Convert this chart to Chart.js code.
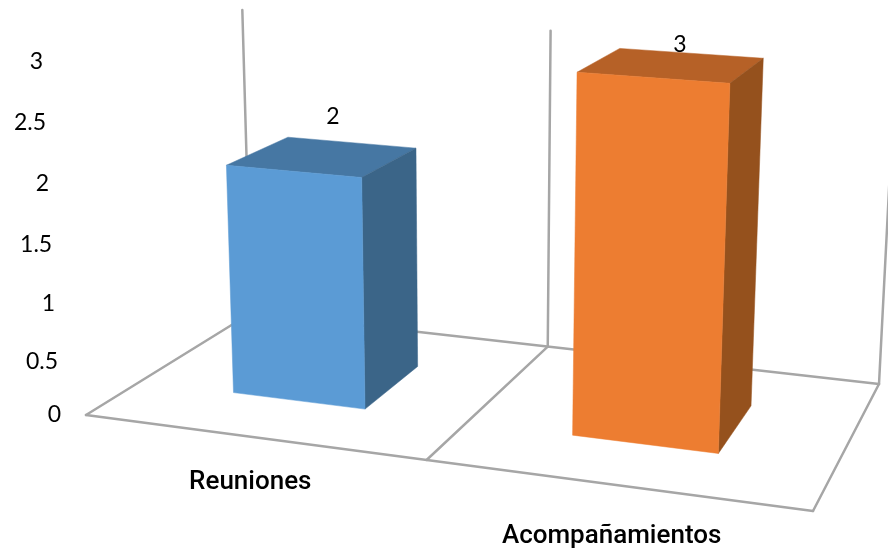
<!DOCTYPE html>
<html>
<head>
<meta charset="utf-8">
<title>Reuniones y acompañamientos</title>
<script src="https://cdn.jsdelivr.net/npm/chart.js@4"></script>
<style>
    html, body { margin: 0; padding: 0; background: #ffffff; }
    #chartBox { position: relative; width: 888px; height: 550px; }
</style>
</head>
<body>
<div id="chartBox"><canvas id="barChart"></canvas></div>
<script>
// chart data
const categories = ['Reuniones', 'Acompañamientos'];
const seriesValues = [2, 3];
const tickValues = [0, 0.5, 1, 1.5, 2, 2.5, 3];

// face colours per bar
const frontColors = ['#5b9bd5', '#ed7d31'];
const topColors = ['#4677a3', '#b66127'];
const sideColors = ['#3b6588', '#95511d'];

// perspective of the 3d box: floor corners on screen, see makeFloor()
const floorCorners = { frontLeft: [86, 415], frontRight: [813, 511], backRight: [879, 384], backLeft: [251, 313] };
const verticalVanish = [477, 8200];
const heightFactor = -0.01465;
const wallTop = 2.95;
const barDepth = [0.3, 0.69];
const categoryShift = -0.0045;

const lineColor = '#a6a6a6';
const tickFont = '23px Lato';
const categoryFont = '500 26px Roboto';

// small screen nudges for the text
const categoryNudge = [[0, 46], [-1, 52]];
const valueNudge = [[9, -40], [7, -20]];

// square to quad mapping for the floor
function makeFloor(c) {
    const [x0, y0] = c.frontLeft, [x1, y1] = c.frontRight, [x2, y2] = c.backRight, [x3, y3] = c.backLeft;
    const dx1 = x1 - x2, dx2 = x3 - x2, sx = x0 - x1 + x2 - x3;
    const dy1 = y1 - y2, dy2 = y3 - y2, sy = y0 - y1 + y2 - y3;
    const den = dx1 * dy2 - dx2 * dy1;
    const g = (sx * dy2 - dx2 * sy) / den;
    const h = (dx1 * sy - sx * dy1) / den;
    return {
        a: x1 - x0 + g * x1, b: x3 - x0 + h * x3, c: x0,
        d: y1 - y0 + g * y1, e: y3 - y0 + h * y3, f: y0,
        g: g, h: h
    };
}
const floor = makeFloor(floorCorners);

// u = along the categories, w = depth, value = height on the value axis
function project(u, w, value) {
    const X = floor.a * u + floor.b * w + floor.c;
    const Y = floor.d * u + floor.e * w + floor.f;
    const W = floor.g * u + floor.h * w + 1;
    const t = heightFactor * value;
    return [(X + verticalVanish[0] * t) / (W + t), (Y + verticalVanish[1] * t) / (W + t)];
}

function fillFace(ctx, points, color) {
    ctx.beginPath();
    points.forEach((p, i) => i === 0 ? ctx.moveTo(p[0], p[1]) : ctx.lineTo(p[0], p[1]));
    ctx.closePath();
    ctx.fillStyle = color;
    ctx.strokeStyle = color;
    ctx.lineWidth = 0.5;
    ctx.fill();
    ctx.stroke();
}

function strokeLine(ctx, from, to) {
    ctx.beginPath();
    ctx.moveTo(from[0], from[1]);
    ctx.lineTo(to[0], to[1]);
    ctx.stroke();
}

const box3d = {
    id: 'box3d',
    // floor and back walls
    beforeDatasetsDraw(chart) {
        const ctx = chart.ctx;
        const mid = 0.5 + categoryShift;
        ctx.save();
        ctx.strokeStyle = lineColor;
        ctx.lineWidth = 2.5;
        ctx.lineCap = 'round';
        strokeLine(ctx, project(0, 0, 0), project(1, 0, 0));
        strokeLine(ctx, project(1, 0, 0), project(1, 1, 0));
        strokeLine(ctx, project(1, 1, 0), project(0, 1, 0));
        strokeLine(ctx, project(0, 1, 0), project(0, 0, 0));
        strokeLine(ctx, project(mid, 0, 0), project(mid, 1, 0));
        [0, mid, 1].forEach(u => strokeLine(ctx, project(u, 1, 0), project(u, 1, wallTop)));
        ctx.restore();
    },
    // bars are drawn here as three faces instead of the flat rectangle
    beforeDatasetDraw(chart, args) {
        const ctx = chart.ctx;
        const area = chart.chartArea;
        const yScale = chart.scales.y;
        ctx.save();
        args.meta.data.forEach((bar, i) => {
            const left = (bar.x - bar.width / 2 - area.left) / (area.right - area.left) + categoryShift;
            const right = (bar.x + bar.width / 2 - area.left) / (area.right - area.left) + categoryShift;
            const value = yScale.getValueForPixel(bar.y);
            const near = barDepth[0], far = barDepth[1];
            fillFace(ctx, [project(left, near, value), project(right, near, value), project(right, far, value), project(left, far, value)], topColors[i]);
            fillFace(ctx, [project(right, near, 0), project(right, far, 0), project(right, far, value), project(right, near, value)], sideColors[i]);
            fillFace(ctx, [project(left, near, 0), project(right, near, 0), project(right, near, value), project(left, near, value)], frontColors[i]);
        });
        ctx.restore();
        return false;
    },
    // all the text
    afterDatasetsDraw(chart) {
        const ctx = chart.ctx;
        const area = chart.chartArea;
        const yScale = chart.scales.y;
        const bars = chart.getDatasetMeta(0).data;
        ctx.save();
        ctx.fillStyle = '#000000';
        ctx.textBaseline = 'middle';

        // value axis labels follow the left edge of the floor
        ctx.font = tickFont;
        ctx.textAlign = 'right';
        yScale.ticks.forEach(tick => {
            const p = project(0, 0, tick.value);
            ctx.fillText(tick.label, p[0] - 25, p[1] + (tick.value === 0 ? 0 : 4));
        });

        ctx.textAlign = 'center';
        bars.forEach((bar, i) => {
            const u = (bar.x - area.left) / (area.right - area.left) + categoryShift;

            ctx.font = tickFont;
            const top = project(u, 0.5, yScale.getValueForPixel(bar.y));
            ctx.fillText(String(seriesValues[i]), top[0] + valueNudge[i][0], top[1] + valueNudge[i][1]);

            ctx.font = categoryFont;
            const foot = project(u, 0, 0);
            ctx.fillText(categories[i], foot[0] + categoryNudge[i][0], foot[1] + categoryNudge[i][1]);
        });
        ctx.restore();
    }
};

function drawChart() {
    const ctx = document.getElementById('barChart').getContext('2d');
    new Chart(ctx, {
        type: 'bar',
        data: {
            labels: categories,
            datasets: [{
                label: 'Cantidad',
                data: seriesValues,
                backgroundColor: frontColors,
                barPercentage: 0.4,
                categoryPercentage: 1
            }]
        },
        options: {
            responsive: true,
            maintainAspectRatio: false,
            animation: false,
            layout: { padding: 0 },
            plugins: {
                legend: { display: false },
                tooltip: { enabled: false }
            },
            scales: {
                x: { display: false },
                y: {
                    display: false,
                    min: 0,
                    max: 3,
                    ticks: {
                        callback: function(value) {
                            return String(value);
                        }
                    },
                    afterBuildTicks: function(axis) {
                        axis.ticks = tickValues.map(v => ({ value: v }));
                    }
                }
            }
        },
        plugins: [box3d]
    });
}

window.onload = function() {
    drawChart();
};
</script>
</body>
</html>
